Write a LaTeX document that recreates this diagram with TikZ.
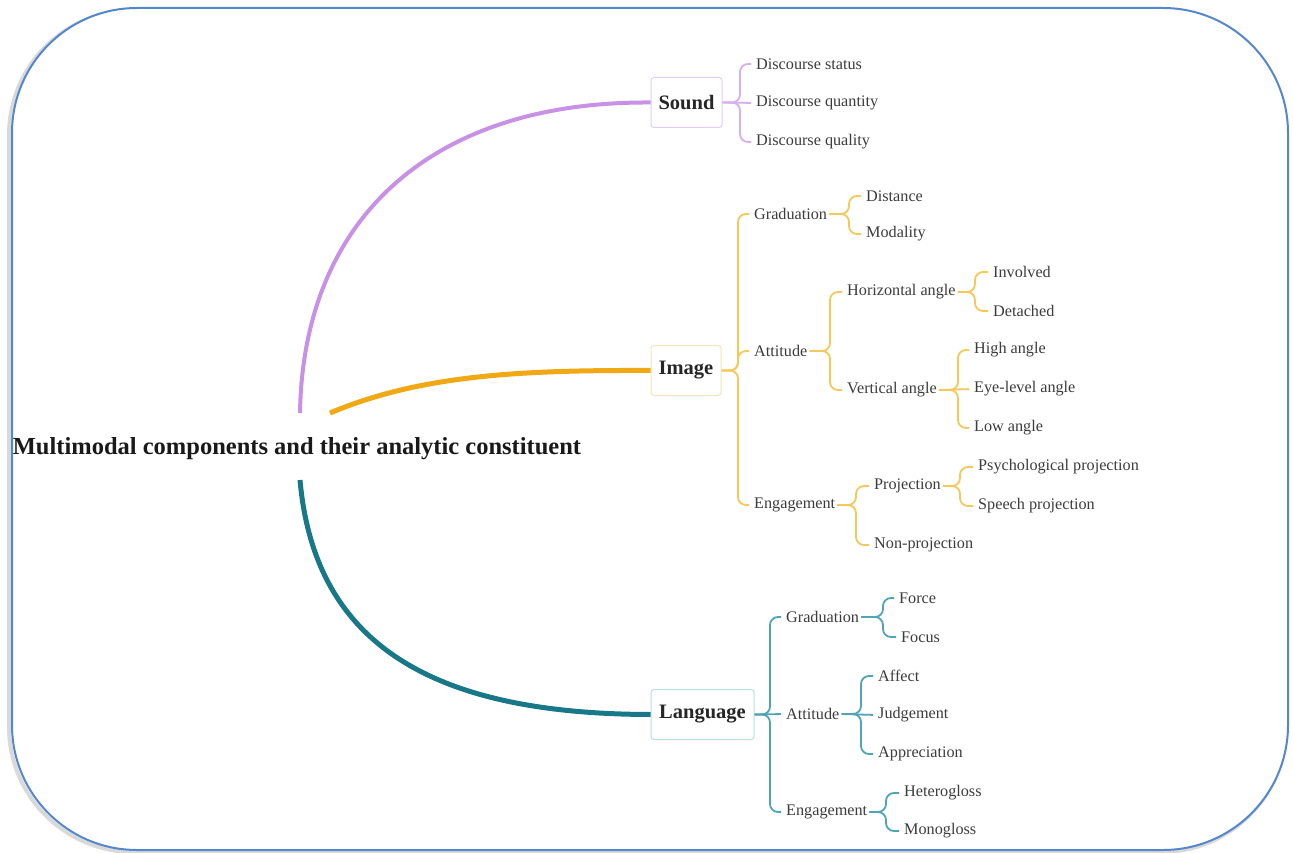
\documentclass[tikz,border=0pt]{standalone}
\usepackage{fontspec}
\setmainfont{Liberation Serif}
\definecolor{frameblue}{RGB}{85,135,205}
\definecolor{purpM}{RGB}{200,145,230}
\definecolor{purpB}{RGB}{215,175,238}
\definecolor{purpBox}{RGB}{228,205,242}
\definecolor{oraM}{RGB}{240,168,20}
\definecolor{oraB}{RGB}{245,200,90}
\definecolor{oraBox}{RGB}{246,228,185}
\definecolor{tealM}{RGB}{25,120,135}
\definecolor{tealB}{RGB}{80,165,180}
\definecolor{tealBox}{RGB}{185,222,228}
\definecolor{txt}{RGB}{60,60,60}
\begin{document}
\begin{tikzpicture}[x=1pt,y=-1pt,
  lbl/.style={anchor=west,inner sep=2pt,text=txt,font=\fontsize{16.2}{19}\selectfont},
  mainbox/.style={draw,rounded corners=3pt,line width=1pt,minimum height=50pt,inner xsep=7pt,text=black!85,font=\fontsize{20.5}{24}\selectfont\bfseries},
  brP/.style={draw=purpB,line width=1.8pt,rounded corners=8pt,shorten <=3pt},
  brO/.style={draw=oraB,line width=1.8pt,rounded corners=8pt,shorten <=3pt},
  brT/.style={draw=tealB,line width=1.8pt,rounded corners=8pt,shorten <=3pt},
]
\useasboundingbox (0,0) rectangle (1293,853);
% frame with shadow
\draw[black,opacity=0.15,line width=4pt,rounded corners=125pt] (9,10) rectangle (1286,852);
\draw[frameblue,line width=2pt,fill=white,rounded corners=125pt] (12,8) rectangle (1288,850);

% title
\node[font=\fontsize{24.5}{29}\selectfont\bfseries,text=black!90,inner sep=0pt] (title) at (297,449) {Multimodal components and their analytic constituent};
\coordinate (ps) at (300,413);
\coordinate (os) at (330,413);
\coordinate (ts) at (300,480);

% main boxes
\node[mainbox,draw=purpBox,minimum width=71pt] (sound) at (686.5,102.5) {Sound};
\node[mainbox,draw=oraBox,minimum width=70pt] (image) at (686,370.5) {Image};
\node[mainbox,draw=tealBox,minimum width=103pt] (lang) at (702.5,714.5) {Language};

% main curves
\draw[purpM,line width=4pt] (ps) .. controls (303,220) and (430,101) .. (sound.west);
\draw[oraM,line width=5pt] (os) .. controls (420,375) and (520,370) .. (image.west);
\draw[tealM,line width=5pt] (ts) .. controls (315,650) and (440,714) .. (lang.west);

% Sound children
\node[lbl] (ds1) at (754,64) {Discourse status};
\node[lbl] (ds2) at (754,103) {Discourse quantity};
\node[lbl] (ds3) at (754,142) {Discourse quality};
\draw[brP] (ds1.west) -- ++(-14,0) |- (sound.east);
\draw[brP] (ds3.west) -- ++(-14,0) |- (sound.east);
\draw[purpB,line width=1.8pt,shorten >=3pt] (sound.east) -- (ds2.west);

% Image children
\node[lbl] (igrad) at (752,214) {Graduation};
\node[lbl] (iatt) at (752,351) {Attitude};
\node[lbl] (ieng) at (752,505) {Engagement};
\draw[brO] (igrad.west) -- ++(-14,0) |- (image.east);
\draw[brO] (iatt.west) -- ++(-14,0) |- (image.east);
\draw[brO] (ieng.west) -- ++(-14,0) |- (image.east);

\node[lbl] (idist) at (864,196) {Distance};
\node[lbl] (imod) at (864,234) {Modality};
\draw[brO] (idist.west) -- ++(-15,0) |- (igrad.east);
\draw[brO] (imod.west) -- ++(-15,0) |- (igrad.east);

\node[lbl] (ihor) at (845,292) {Horizontal angle};
\node[lbl] (iver) at (845,390) {Vertical angle};
\draw[brO] (ihor.west) -- ++(-15,0) |- (iatt.east);
\draw[brO] (iver.west) -- ++(-15,0) |- (iatt.east);

\node[lbl] (iinv) at (991,272) {Involved};
\node[lbl] (idet) at (991,311) {Detached};
\draw[brO] (iinv.west) -- ++(-16,0) |- (ihor.east);
\draw[brO] (idet.west) -- ++(-16,0) |- (ihor.east);

\node[lbl] (ihigh) at (972,350) {High angle};
\node[lbl] (ieye) at (972,389) {Eye-level angle};
\node[lbl] (ilow) at (972,428) {Low angle};
\draw[brO] (ihigh.west) -- ++(-14,0) |- (iver.east);
\draw[brO] (ilow.west) -- ++(-14,0) |- (iver.east);
\draw[oraB,line width=1.8pt,shorten >=3pt,shorten <=3pt] (iver.east) -- (ieye.west);

\node[lbl] (iproj) at (872,486) {Projection};
\node[lbl] (inon) at (872,545) {Non-projection};
\draw[brO] (iproj.west) -- ++(-16,0) |- (ieng.east);
\draw[brO] (inon.west) -- ++(-16,0) |- (ieng.east);

\node[lbl] (ipsy) at (976,467) {Psychological projection};
\node[lbl] (ispe) at (976,506) {Speech projection};
\draw[brO] (ipsy.west) -- ++(-16,0) |- (iproj.east);
\draw[brO] (ispe.west) -- ++(-16,0) |- (iproj.east);

% Language children
\node[lbl] (lgrad) at (784,617) {Graduation};
\node[lbl] (latt) at (784,714) {Attitude};
\node[lbl] (leng) at (784,812) {Engagement};
\draw[brT] (lgrad.west) -- ++(-14,0) |- (lang.east);
\draw[brT] (leng.west) -- ++(-14,0) |- (lang.east);
\draw[tealB,line width=1.8pt,shorten >=3pt] (lang.east) -- (latt.west);

\node[lbl] (lforce) at (897,598) {Force};
\node[lbl] (lfocus) at (899,637) {Focus};
\draw[brT] (lforce.west) -- ++(-14,0) |- (lgrad.east);
\draw[brT] (lfocus.west) -- ++(-16,0) |- (lgrad.east);

\node[lbl] (laff) at (876,676) {Affect};
\node[lbl] (ljud) at (876,715) {Judgement};
\node[lbl] (lapp) at (876,754) {Appreciation};
\draw[brT] (laff.west) -- ++(-15,0) |- (latt.east);
\draw[brT] (lapp.west) -- ++(-15,0) |- (latt.east);
\draw[tealB,line width=1.8pt,shorten >=3pt,shorten <=3pt] (latt.east) -- (ljud.west);

\node[lbl] (lhet) at (902,793) {Heterogloss};
\node[lbl] (lmon) at (902,831) {Monogloss};
\draw[brT] (lhet.west) -- ++(-16,0) |- (leng.east);
\draw[brT] (lmon.west) -- ++(-16,0) |- (leng.east);
\end{tikzpicture}
\end{document}
